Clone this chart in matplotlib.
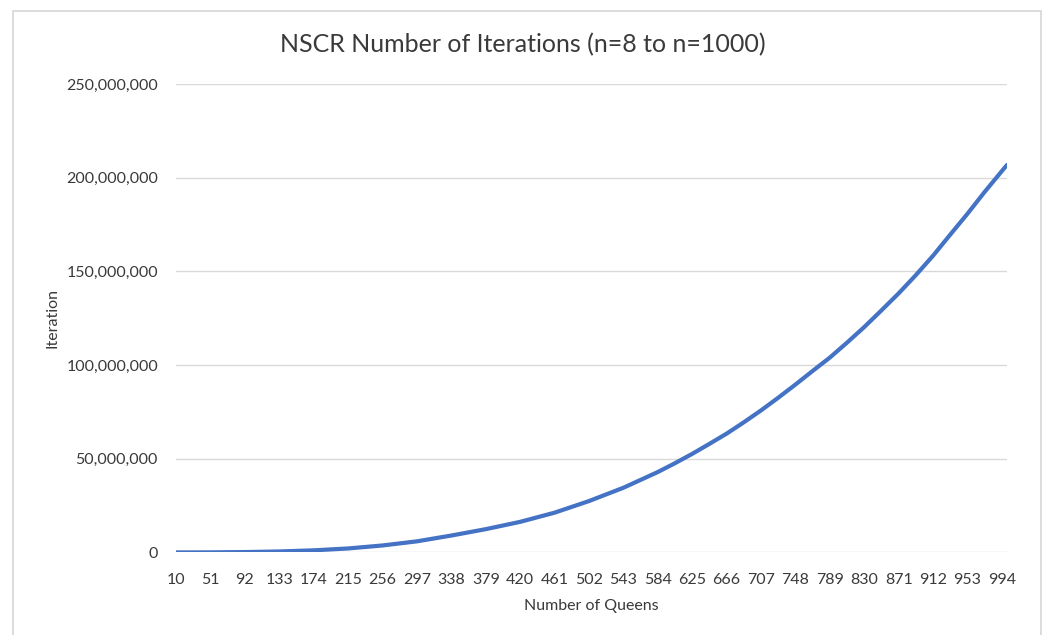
import matplotlib
matplotlib.use('Agg')
import matplotlib.pyplot as plt
from matplotlib.ticker import FuncFormatter
from matplotlib.patches import Rectangle

# values (millions), at the labelled categories and roughly halfway between
queens = [10, 51, 92, 133, 174, 215, 256, 297, 338, 379, 420, 461, 502,
          543, 584, 604, 625, 645, 666, 686, 707, 727, 748, 768, 789, 809,
          830, 850, 871, 891, 912, 932, 953, 973, 994, 1000]
iterations_m = [0.0002, 0.03, 0.18, 0.5, 1.1, 2.1, 3.7, 5.9, 9.0, 12.4, 16.3,
                21.2, 27.4, 34.5, 42.9, 47.5, 52.6, 57.8, 63.4, 69.3, 75.8,
                82.4, 89.6, 96.7, 104.0, 111.8, 120.3, 129.0, 138.3, 147.8,
                158.4, 169.4, 180.8, 192.2, 203.6, 206.8]
iterations = [v * 1e6 for v in iterations_m]
tick_labels = [10, 51, 92, 133, 174, 215, 256, 297, 338, 379, 420, 461, 502,
               543, 584, 625, 666, 707, 748, 789, 830, 871, 912, 953, 994]

plt.rcParams['font.family'] = ['Lato', 'DejaVu Sans']

fig = plt.figure(figsize=(10.45, 6.35), dpi=100)
ax = fig.add_axes([176 / 1045, 1 - 552.4 / 635, 831 / 1045, 468.4 / 635])

# chart border
fig.patches.append(Rectangle((13 / 1045, -0.02), 1028 / 1045, 1 - 11 / 635 + 0.02,
                             transform=fig.transFigure, fill=False,
                             edgecolor='#d9d9d9', linewidth=1.3))

ax.plot(queens, iterations, color='#4472C4', linewidth=3.0,
        solid_capstyle='round', solid_joinstyle='round', zorder=3)

ax.set_xlim(10, 1000)
ax.set_ylim(0, 250e6)
ax.set_yticks([0, 50e6, 100e6, 150e6, 200e6, 250e6])
ax.yaxis.set_major_formatter(FuncFormatter(lambda v, p: f'{int(v):,}'))
ax.set_xticks(tick_labels)
ax.set_xticklabels([str(t) for t in tick_labels])

ax.grid(axis='y', color='#d9d9d9', linewidth=1.0)
ax.set_axisbelow(True)
for s in ax.spines.values():
    s.set_visible(False)
ax.tick_params(axis='both', length=0, labelsize=11.5, colors='#3a3a3a')
ax.tick_params(axis='y', pad=13)
ax.tick_params(axis='x', pad=15)

ax.set_xlabel('Number of Queens', fontsize=11.5, color='#3a3a3a', va='center')
ax.set_ylabel('Iteration', fontsize=11.5, color='#3a3a3a', va='center')
ax.xaxis.set_label_coords(0.5, (552.4 - 606) / 468.4)
ax.yaxis.set_label_coords((52 - 176) / 831, 0.5)
fig.text(0.5, 1 - 45 / 635, 'NSCR Number of Iterations (n=8 to n=1000)',
         ha='center', va='center', fontsize=18, color='#3a3a3a')

fig.savefig('out.png', dpi=100)
